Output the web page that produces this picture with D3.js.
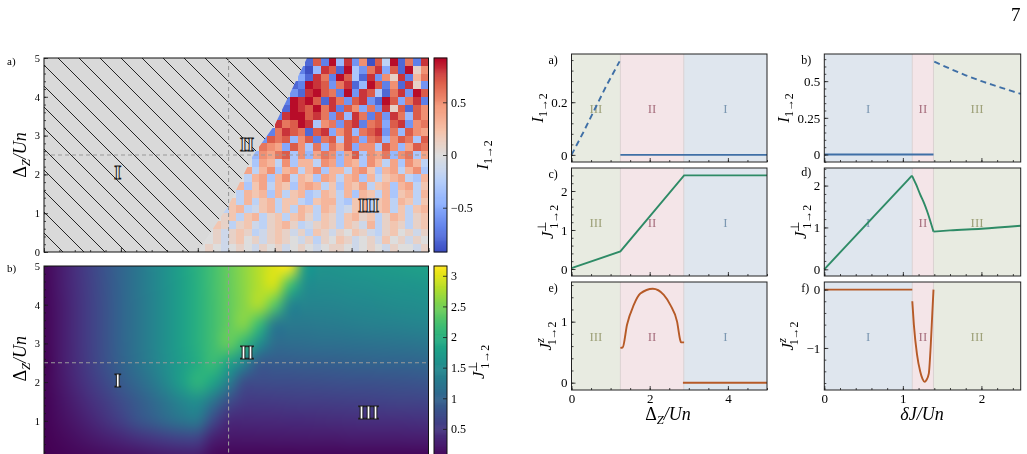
<!DOCTYPE html>
<html>
<head>
<meta charset="utf-8">
<script src="https://cdn.jsdelivr.net/npm/d3@7"></script>
<style>
  body { margin: 0; background: #fff; }
  #wrap { position: relative; width: 1027px; height: 454px; overflow: hidden; background: #fff; }
  #wrap canvas, #wrap svg { position: absolute; left: 0; top: 0; }
</style>
</head>
<body>
<div id="wrap"></div>
<script>
// ---------- data ----------

// left a): I_{1->2} heat map, region III only (cells are 0.05 wide in dJ, 0.2 high in Dz)
// one letter per cell: a=-0.9 ... j=0 ... s=+0.9, "." = no data (hatched)
const noiseDJ = [1.00, 1.05, 1.10, 1.15, 1.20, 1.25, 1.30, 1.35, 1.40, 1.45,
                 1.50, 1.55, 1.60, 1.65, 1.70, 1.75, 1.80, 1.85, 1.90, 1.95,
                 2.00, 2.05, 2.10, 2.15, 2.20, 2.25, 2.30, 2.35, 2.40, 2.45];
const noiseDZ = [4.8, 4.6, 4.4, 4.2, 4.0, 3.8, 3.6, 3.4, 3.2, 3.0, 2.8, 2.6, 2.4,
                 2.2, 2.0, 1.8, 1.6, 1.4, 1.2, 1.0, 0.8, 0.6, 0.4, 0.2, 0.0];
const noiseRows = [
  "bqcsfrdoaqhsbpcr",
  "cafrqbsgdpreqbsko",
  "ebrpcsqgbrdokrcmp",
  "bcsrqdprbfsqcobrkd",
  "dbrsqpcsdrqgbprdsq",
  "csrsqbrpdqrdbsqeprc",
  "bsrqsprcqoepdrkqbqo",
  "crssqrpdqfrpcqdrpfqo",
  "rpqsrgopdqrcpqeqrdop",
  "cprqpbqreoqfpqrdpfqon",
  "dqpqfoqcpqgqpepqfoqpgq",
  "poneqogpfpnqeoogqofnqp",
  "fonpqgofnpofnqgonpfopgn",
  "gnmhogmmhonfnmgomhngomh",
  "nhmogmnhmogmmhnolgmnhmog",
  "hmngmohmlgnmhmngmhlmnhgm",
  "mglnhmlgmnmhlgmlnhlmgmnhl",
  "hmlmgmhlmghmlhmgmlhmglmhm",
  "lhmhlmhllhglmmhglmhlmhmlhl",
  "hlmhilmhlhmlhmlhilmhlmhlhlm",
  "klhlmhklhlmkhlkhlmklhkmlhkl",
  "lkhklihklmkhiklkhlkimhklkhkl",
  "kiklkhiklkikhlkikjlkihkljkik",
  "jkikljkiklkjikhkjlkijkiljkikj",
  "kjijkjikjkijkjijkkjijkjikjjik"
];
// edge of the hatched (I = 0) area: [dJ, Dz]
const hatchEdge = [[1.0, 0], [1.03, 0.2], [1.2, 1.2], [1.36, 2.5], [1.5, 3.27], [1.71, 5]];

// left b): J_perp heat map on a coarse grid (rows from Dz = 5 down to 0)
const perpDJ = [0, 0.1, 0.2, 0.3, 0.4, 0.5, 0.6, 0.7, 0.8, 0.9, 1.0, 1.1, 1.2,
                1.3, 1.4, 1.5, 1.6, 1.7, 1.8, 1.9, 2.0, 2.1, 2.2, 2.3, 2.4, 2.5];
const perpDZ = [5, 4.5, 4, 3.5, 3, 2.5, 2, 1.5, 1, 0.5, 0];
const perpRows = [
  [0.05,0.22,0.42,0.62,0.82,1.02,1.22,1.42,1.62,1.82,2.02,2.22,2.42,2.62,2.82,3.02,3.12,1.75,1.62,1.64,1.66,1.68,1.71,1.74,1.77,1.8],
  [0.04,0.21,0.41,0.61,0.81,1.01,1.21,1.41,1.61,1.81,2.01,2.21,2.41,2.61,2.81,2.95,2.2,1.55,1.52,1.54,1.56,1.58,1.6,1.62,1.64,1.66],
  [0.04,0.2,0.4,0.6,0.8,1.0,1.2,1.4,1.6,1.8,2.0,2.2,2.4,2.6,2.78,2.35,1.45,1.42,1.42,1.44,1.46,1.48,1.5,1.52,1.54,1.56],
  [0.03,0.2,0.4,0.6,0.8,1.0,1.2,1.4,1.6,1.8,2.0,2.2,2.4,2.58,2.15,1.3,1.28,1.28,1.3,1.32,1.34,1.36,1.38,1.4,1.42,1.44],
  [0.03,0.2,0.4,0.6,0.8,1.0,1.2,1.4,1.6,1.8,2.0,2.2,2.42,2.1,1.55,1.12,1.12,1.13,1.15,1.16,1.18,1.19,1.2,1.22,1.23,1.25],
  [0.0,0.2,0.39,0.59,0.78,0.98,1.18,1.37,1.57,1.76,1.96,2.16,1.85,1.42,0.9,0.91,0.92,0.94,0.95,0.96,0.98,0.99,1.0,1.01,1.02,1.04],
  [0.03,0.18,0.35,0.52,0.7,0.88,1.05,1.25,1.5,1.78,2.05,1.85,1.35,0.76,0.72,0.73,0.74,0.75,0.76,0.77,0.78,0.79,0.8,0.81,0.82,0.84],
  [0.02,0.14,0.28,0.42,0.56,0.72,0.88,1.05,1.25,1.45,1.55,1.2,0.75,0.55,0.54,0.55,0.56,0.57,0.58,0.59,0.6,0.61,0.62,0.63,0.64,0.65],
  [0.02,0.1,0.2,0.32,0.45,0.6,0.78,0.92,1.08,1.22,1.25,0.7,0.36,0.35,0.36,0.37,0.38,0.38,0.39,0.4,0.41,0.42,0.42,0.43,0.44,0.45],
  [0.01,0.06,0.12,0.18,0.25,0.32,0.4,0.48,0.55,0.6,0.58,0.25,0.18,0.18,0.18,0.19,0.19,0.2,0.2,0.2,0.21,0.21,0.22,0.22,0.23,0.23],
  [0,0.02,0.04,0.06,0.08,0.1,0.12,0.15,0.18,0.2,0.2,0.05,0.02,0.02,0.02,0.02,0.02,0.02,0.02,0.02,0.02,0.02,0.02,0.02,0.02,0.02]
];
const cutDJ = 1.2;   // dashed guides = the cuts shown on the right
const cutDZ = 2.5;
const mapLabels = [{t: "I", dJ: 0.48, dZ: 2.03}, {t: "II", dJ: 1.32, dZ: 2.75}, {t: "III", dJ: 2.11, dZ: 1.19}];

// right column: regions along each cut
const dzRegions = [{name: "III", from: 0, to: 1.25}, {name: "II", from: 1.25, to: 2.87}, {name: "I", from: 2.87, to: 5}];
const djRegions = [{name: "I", from: 0, to: 1.12}, {name: "II", from: 1.12, to: 1.39}, {name: "III", from: 1.39, to: 2.5}];

// a) I vs Dz
const aDashDZ = [0, 0.3, 0.6, 0.9, 1.23];
const aDashI  = [0, 0.085, 0.175, 0.265, 0.355];
const aFlatDZ = [1.25, 5];
const aFlatI  = [0, 0];
// c) J_perp vs Dz
const cDZ = [0, 1.25, 2.88, 5];
const cJ  = [0.02, 0.45, 2.4, 2.4];
// e) J_z vs Dz
const eArcDZ = [1.25, 1.31, 1.42, 1.59, 1.76, 2.08, 2.36, 2.53, 2.7, 2.78, 2.8, 2.88];
const eArcJ  = [0.57, 0.58, 0.95, 1.27, 1.46, 1.54, 1.44, 1.27, 1.0, 0.7, 0.66, 0.66];
const eFlatDZ = [2.85, 5];
const eFlatJ  = [0, 0];
// b) I vs dJ
const bFlatDJ = [0, 1.39];
const bFlatI  = [0, 0];
const bDashDJ = [1.4, 1.6, 1.8, 2.0, 2.2, 2.4, 2.5];
const bDashI  = [0.633, 0.585, 0.54, 0.5, 0.465, 0.43, 0.413];
// d) J_perp vs dJ
const dRiseDJ = [0, 1.116];
const dRiseJ  = [0, 2.24];
const dDropDJ = [1.116, 1.17, 1.22, 1.27, 1.31, 1.35, 1.39];
const dDropJ  = [2.24, 2.02, 1.79, 1.58, 1.38, 1.15, 0.9];
const dTailDJ = [1.39, 1.6, 2.0, 2.5];
const dTailJ  = [0.9, 0.93, 0.97, 1.04];
// f) J_z vs dJ
const fFlatDJ = [0, 1.12];
const fFlatJ  = [0, 0];
const fDipDJ = [1.12, 1.14, 1.18, 1.22, 1.25, 1.277, 1.3, 1.33, 1.355, 1.375, 1.39];
const fDipJ  = [-0.2, -0.6, -1.11, -1.4, -1.53, -1.58, -1.55, -1.44, -0.95, -0.4, 0];

// ---------- set-up ----------
const W = 1027, H = 454;
const SERIF = "'Liberation Serif','Times New Roman',serif";
const wrap = d3.select("#wrap");
const canvas = wrap.append("canvas").attr("width", W).attr("height", H);
const ctx = canvas.node().getContext("2d");
const svg = wrap.append("svg").attr("width", W).attr("height", H).attr("font-family", SERIF);

const fmtTick = d => (+d.toFixed(3)).toString().replace("-", "\u2212");

function drawTicks(tx, ty, axisFn, scale, major, minor, fs, labels) {
    let g = svg.append("g").attr("transform", `translate(${tx},${ty})`);
    g.call(axisFn(scale).tickValues(major).tickSize(-4).tickPadding(4)
        .tickFormat(labels ? fmtTick : () => ""));
    if (minor.length) {
        g.append("g").call(axisFn(scale).tickValues(minor).tickSize(-2).tickFormat(() => ""));
    }
    g.selectAll(".domain").remove();
    g.attr("font-family", SERIF).attr("font-size", fs);
    g.selectAll("line").attr("stroke", "#1a1a1a").attr("stroke-width", 0.8);
    return g;
}

function minorOf(domain, step) {
    let lo = Math.ceil(domain[0] / step - 1e-9), hi = Math.floor(domain[1] / step + 1e-9);
    return d3.range(lo, hi + 1).map(k => +(k * step).toFixed(4));
}

// rotated y label, baseline at x
function rotLabel(x, y, fs, build) {
    let t = svg.append("text")
        .attr("transform", `translate(${x},${y}) rotate(-90)`)
        .attr("text-anchor", "middle")
        .attr("font-size", fs);
    build(t, fs);
    return t;
}
const labI = (t, fs) => {
    t.append("tspan").attr("font-style", "italic").text("I");
    t.append("tspan").attr("font-size", fs * 0.7).attr("dy", fs * 0.25).text("1\u21922");
};
const labJ = sup => (t, fs) => {
    t.append("tspan").attr("font-style", "italic").text("J");
    t.append("tspan").attr("font-size", fs * 0.7).attr("dy", -fs * 0.4)
        .attr("font-style", sup === "z" ? "italic" : null).text(sup);
    t.append("tspan").attr("font-size", fs * 0.7).attr("dx", -fs * 0.42).attr("dy", fs * 0.68).text("1\u21922");
};
const labDz = (t, fs) => {
    t.append("tspan").text("\u0394");
    t.append("tspan").attr("font-size", fs * 0.7).attr("font-style", "italic").attr("dy", fs * 0.22).text("Z");
    t.append("tspan").attr("font-style", "italic").attr("dy", -fs * 0.22).text("/Un");
};

// ---------- left: heat maps ----------
const mapX = d3.scaleLinear().domain([0, 2.5]).range([44, 428.5]);
const topY = d3.scaleLinear().domain([0, 5]).range([252, 58]);
const botY = d3.scaleLinear().domain([0, 5]).range([459.5, 266]);

const coolwarm = d3.scaleLinear()
    .domain([-0.92, -0.69, -0.46, -0.23, 0, 0.23, 0.46, 0.69, 0.92])
    .range(["#3b4cc0", "#6282ea", "#8db0fe", "#b8d0f9", "#dddddd", "#f5c2aa", "#f49a7b", "#dd604c", "#b40426"])
    .clamp(true);
const viridis = d3.scaleSequential(d3.interpolateViridis).domain([0, 3.16]);

// a) I_{1->2} cells
let gTop = svg.append("g");
gTop.append("rect")
    .attr("x", mapX(0)).attr("y", topY(5))
    .attr("width", mapX(2.5) - mapX(0)).attr("height", topY(0) - topY(5))
    .attr("fill", coolwarm(0));

let cellW = mapX(noiseDJ[1]) - mapX(noiseDJ[0]);
let cellH = topY(0) - topY(noiseDZ[0] - noiseDZ[1]);
let cells = [];
noiseRows.forEach((row, i) => {
    Array.from(row.padStart(noiseDJ.length, ".")).forEach((ch, j) => {
        if (ch === ".") return;
        cells.push({dJ: noiseDJ[j], dZ: noiseDZ[i], v: (ch.charCodeAt(0) - 106) / 10});
    });
});
gTop.selectAll(".cell").data(cells).enter().append("rect")
    .attr("class", "cell")
    .attr("x", d => mapX(d.dJ))
    .attr("y", d => topY(d.dZ) - cellH)
    .attr("width", cellW + 0.4)
    .attr("height", cellH + 0.4)
    .attr("fill", d => coolwarm(d.v))
    .attr("shape-rendering", "crispEdges");

// hatched area
let defs = svg.append("defs");
let pat = defs.append("pattern").attr("id", "hatch")
    .attr("patternUnits", "userSpaceOnUse").attr("width", 21).attr("height", 21);
pat.append("rect").attr("width", 21).attr("height", 21).attr("fill", "#d9d9d9");
pat.append("path").attr("d", "M-2,-2L23,23M-21,0L0,21M0,-21L21,0")
    .attr("stroke", "#111").attr("stroke-width", 0.9);

let hatchPoly = [[0, 0]].concat(hatchEdge, [[0, 5]]);
gTop.append("path")
    .attr("d", d3.line().x(d => mapX(d[0])).y(d => topY(d[1]))(hatchPoly) + "Z")
    .attr("fill", "url(#hatch)");

// b) J_perp smooth map on canvas
(function () {
    let small = document.createElement("canvas");
    small.width = perpDJ.length;
    small.height = perpDZ.length;
    let sctx = small.getContext("2d");
    let img = sctx.createImageData(small.width, small.height);
    perpRows.forEach((row, i) => row.forEach((v, j) => {
        let c = d3.rgb(viridis(v));
        let k = 4 * (i * small.width + j);
        img.data[k] = c.r; img.data[k + 1] = c.g; img.data[k + 2] = c.b; img.data[k + 3] = 255;
    }));
    sctx.putImageData(img, 0, 0);
    let hx = (perpDJ[1] - perpDJ[0]) / 2, hz = (perpDZ[0] - perpDZ[1]) / 2;
    ctx.save();
    ctx.beginPath();
    ctx.rect(mapX(0), botY(5), mapX(2.5) - mapX(0), botY(0) - botY(5));
    ctx.clip();
    ctx.imageSmoothingEnabled = true;
    ctx.imageSmoothingQuality = "high";
    let x0 = mapX(perpDJ[0] - hx), x1 = mapX(perpDJ[perpDJ.length - 1] + hx);
    let y0 = botY(perpDZ[0] + hz), y1 = botY(perpDZ[perpDZ.length - 1] - hz);
    ctx.drawImage(small, x0, y0, x1 - x0, y1 - y0);
    ctx.restore();
})();

// guides, labels, frames, ticks for both maps
[[topY, "#eeeeee"], [botY, "#ffffff"]].forEach(([yS, fillCol]) => {
    let g = svg.append("g");
    g.append("line")
        .attr("x1", mapX(0)).attr("x2", mapX(2.5)).attr("y1", yS(cutDZ)).attr("y2", yS(cutDZ))
        .attr("stroke", "#9a9a9a").attr("stroke-width", 1.1).attr("stroke-dasharray", "4,3");
    g.append("line")
        .attr("x1", mapX(cutDJ)).attr("x2", mapX(cutDJ)).attr("y1", yS(0)).attr("y2", yS(5))
        .attr("stroke", "#9a9a9a").attr("stroke-width", 1.1).attr("stroke-dasharray", "4,3");
    g.selectAll(".rl").data(mapLabels).enter().append("text")
        .attr("x", d => mapX(d.dJ)).attr("y", d => yS(d.dZ))
        .attr("text-anchor", "middle").attr("dominant-baseline", "central")
        .attr("font-size", 18).attr("font-weight", "bold")
        .attr("fill", fillCol).attr("stroke", "#1a1a1a").attr("stroke-width", 1)
        .text(d => d.t);
    g.append("rect")
        .attr("x", mapX(0)).attr("y", yS(5))
        .attr("width", mapX(2.5) - mapX(0)).attr("height", yS(0) - yS(5))
        .attr("fill", "none").attr("stroke", "#111").attr("stroke-width", 1);
    drawTicks(mapX(0), 0, d3.axisLeft, yS, [0, 1, 2, 3, 4, 5], minorOf([0, 5], 0.2), 10.5, true);
    drawTicks(0, yS(0), d3.axisBottom, mapX, [0, 0.5, 1, 1.5, 2, 2.5], minorOf([0, 2.5], 0.1), 10.5, false);
    rotLabel(26, (yS(0) + yS(5)) / 2 + (yS === botY ? -4 : 0), 18, labDz);
});

// colour bars
const cbX = 434, cbW = 13;
const cbTop = d3.scaleLinear().domain([-0.92, 0.92]).range([252, 58]);
const cbBot = d3.scaleLinear().domain([0, 3.16]).range([459.5, 266]);
[[cbTop, coolwarm, [-0.5, 0, 0.5]], [cbBot, viridis, [0.5, 1, 1.5, 2, 2.5, 3]]].forEach(([s, cmap, tv]) => {
    let dom = s.domain();
    let steps = d3.range(0, 200).map(k => dom[0] + (dom[1] - dom[0]) * k / 200);
    let dv = (dom[1] - dom[0]) / 200;
    svg.append("g").selectAll("rect").data(steps).enter().append("rect")
        .attr("x", cbX).attr("width", cbW)
        .attr("y", d => s(d + dv) - 0.3)
        .attr("height", d => s(d) - s(d + dv) + 0.6)
        .attr("fill", d => cmap(d + dv / 2));
    svg.append("rect").attr("x", cbX).attr("y", s(dom[1]))
        .attr("width", cbW).attr("height", s(dom[0]) - s(dom[1]))
        .attr("fill", "none").attr("stroke", "#111").attr("stroke-width", 1);
    drawTicks(cbX + cbW, 0, d3.axisRight, s, tv, [], 12, true);
});
rotLabel(488, 155, 17, labI);
rotLabel(484, 362, 17, labJ("\u22a5"));

svg.append("text").attr("x", 7).attr("y", 65).attr("font-size", 11).text("a)");
svg.append("text").attr("x", 7).attr("y", 272).attr("font-size", 11).text("b)");
svg.append("text").attr("x", 1011).attr("y", 21).attr("font-size", 19).text("7");

// ---------- right: cuts ----------
const regionFill = {"I": "#dfe6ee", "II": "#f4e5e8", "III": "#e8ebe1"};
const regionText = {"I": "#7c98b2", "II": "#a8707f", "III": "#9fa27a"};
const colX = [[571.5, 767], [824.3, 1020.7]];
const rowY = [[54, 162], [168, 276], [282, 390]];
const BLUE = "#3f6fa6", GREEN = "#2e8b66", BROWN = "#b65a27";

const zip = (xs, ys) => xs.map((x, i) => [x, ys[i]]);

const panels = [
    {tag: "a)", c: 0, r: 0, y: [-0.027, 0.383], major: [0, 0.2], mstep: 0.04, lab: labI, labX: 543,
     lines: [{p: zip(aDashDZ, aDashI), col: BLUE, dash: true}, {p: zip(aFlatDZ, aFlatI), col: BLUE}]},
    {tag: "c)", c: 0, r: 1, y: [-0.18, 2.59], major: [0, 1, 2], mstep: 0.2, lab: labJ("\u22a5"), labX: 553,
     lines: [{p: zip(cDZ, cJ), col: GREEN}]},
    {tag: "e)", c: 0, r: 2, y: [-0.12, 1.65], major: [0, 1], mstep: 0.2, lab: labJ("z"), labX: 551,
     lines: [{p: zip(eArcDZ, eArcJ), col: BROWN, smooth: true}, {p: zip(eFlatDZ, eFlatJ), col: BROWN}]},
    {tag: "b)", c: 1, r: 0, y: [-0.051, 0.685], major: [0, 0.25, 0.5], mstep: 0.05, lab: labI, labX: 789,
     lines: [{p: zip(bFlatDJ, bFlatI), col: BLUE}, {p: zip(bDashDJ, bDashI), col: BLUE, dash: true, smooth: true}]},
    {tag: "d)", c: 1, r: 1, y: [-0.16, 2.42], major: [0, 1, 2], mstep: 0.2, lab: labJ("\u22a5"), labX: 806,
     lines: [{p: zip(dRiseDJ, dRiseJ), col: GREEN}, {p: zip(dDropDJ, dDropJ), col: GREEN, smooth: true},
             {p: zip(dTailDJ, dTailJ), col: GREEN, smooth: true}]},
    {tag: "f)", c: 1, r: 2, y: [-1.72, 0.13], major: [-1, 0], mstep: 0.2, lab: labJ("z"), labX: 793,
     lines: [{p: zip(fFlatDJ, fFlatJ), col: BROWN}, {p: zip(fDipDJ, fDipJ), col: BROWN, smooth: true}]}
];

panels.forEach(pn => {
    let xr = colX[pn.c], yr = rowY[pn.r];
    let xDom = pn.c === 0 ? [0, 5] : [0, 2.5];
    let regions = pn.c === 0 ? dzRegions : djRegions;
    let x = d3.scaleLinear().domain(xDom).range(xr);
    let y = d3.scaleLinear().domain(pn.y).range([yr[1], yr[0]]);
    let g = svg.append("g");

    g.selectAll(".reg").data(regions).enter().append("rect")
        .attr("x", d => x(d.from)).attr("width", d => x(d.to) - x(d.from))
        .attr("y", yr[0]).attr("height", yr[1] - yr[0])
        .attr("fill", d => regionFill[d.name]);
    g.selectAll(".regline").data(regions.slice(1)).enter().append("line")
        .attr("x1", d => x(d.from)).attr("x2", d => x(d.from))
        .attr("y1", yr[0]).attr("y2", yr[1])
        .attr("stroke", "#d6cccc").attr("stroke-width", 0.8);
    g.selectAll(".regtxt").data(regions).enter().append("text")
        .attr("x", d => x((d.from + d.to) / 2)).attr("y", (yr[0] + yr[1]) / 2)
        .attr("text-anchor", "middle").attr("dominant-baseline", "central")
        .attr("font-size", 13).attr("fill", d => regionText[d.name])
        .text(d => d.name);

    pn.lines.forEach(ln => {
        let gen = d3.line().x(d => x(d[0])).y(d => y(d[1]))
            .curve(ln.smooth ? d3.curveMonotoneX : d3.curveLinear);
        g.append("path").attr("d", gen(ln.p))
            .attr("fill", "none").attr("stroke", ln.col).attr("stroke-width", 1.9)
            .attr("stroke-dasharray", ln.dash ? "6,4" : null);
    });

    g.append("rect").attr("x", xr[0]).attr("y", yr[0])
        .attr("width", xr[1] - xr[0]).attr("height", yr[1] - yr[0])
        .attr("fill", "none").attr("stroke", "#222").attr("stroke-width", 1);

    drawTicks(xr[0], 0, d3.axisLeft, y, pn.major, minorOf(pn.y, pn.mstep), 13, true);
    let xMajor = pn.c === 0 ? [0, 2, 4] : [0, 1, 2];
    let xMinor = pn.c === 0 ? minorOf(xDom, 0.5) : minorOf(xDom, 0.2);
    drawTicks(0, yr[1], d3.axisBottom, x, xMajor, xMinor, 13, pn.r === 2);

    rotLabel(pn.labX, (yr[0] + yr[1]) / 2, 17, pn.lab);
    svg.append("text").attr("x", xr[0] - 23).attr("y", yr[0] + (pn.r === 1 && pn.c === 1 ? 8 : 10))
        .attr("font-size", 12).text(pn.tag);
});

// x labels of the right column
let xl1 = svg.append("text").attr("x", 668).attr("y", 420).attr("text-anchor", "middle").attr("font-size", 18);
labDz(xl1, 18);
let xl2 = svg.append("text").attr("x", 922).attr("y", 420).attr("text-anchor", "middle").attr("font-size", 18);
xl2.append("tspan").attr("font-style", "italic").text("\u03b4J/Un");
</script>
</body>
</html>
